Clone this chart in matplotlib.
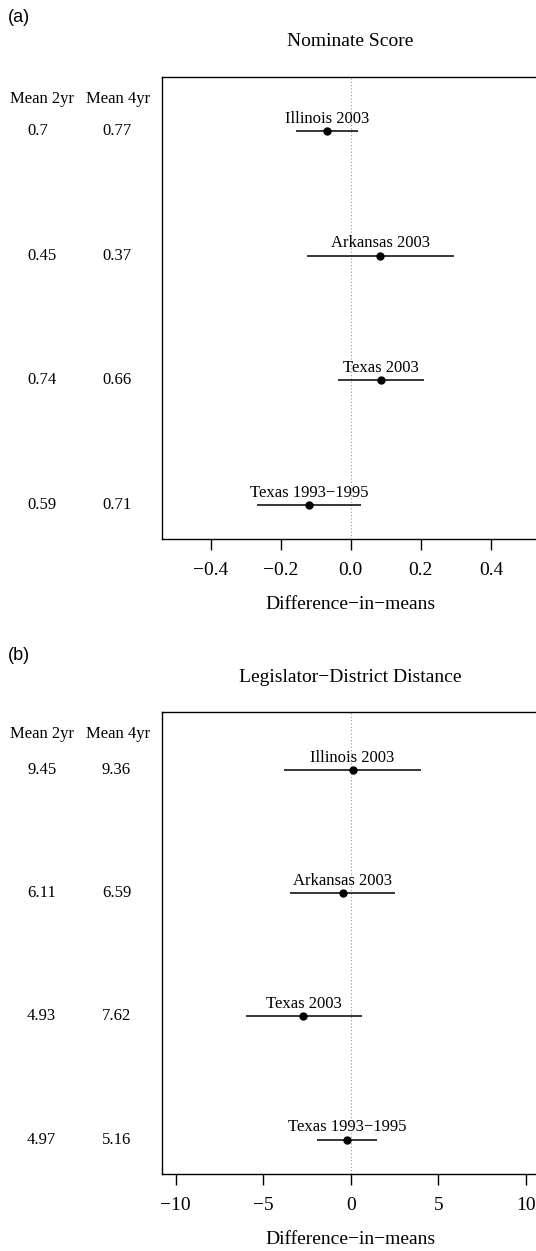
import numpy as np
import matplotlib.pyplot as plt
import matplotlib.transforms as mtransforms

W, H = 536, 1251

labels = ["Illinois 2003", "Arkansas 2003", "Texas 2003", "Texas 1993\u22121995"]

# panel (a): nominate score
nom_est = [-0.068, 0.084, 0.087, -0.119]
nom_lo = [-0.157, -0.126, -0.035, -0.267]
nom_hi = [0.020, 0.296, 0.209, 0.029]
nom_mean2 = ["0.7", "0.45", "0.74", "0.59"]
nom_mean4 = ["0.77", "0.37", "0.66", "0.71"]
nom_ticks = [-0.4, -0.2, 0.0, 0.2, 0.4]
nom_ticklabels = ["\u22120.4", "\u22120.2", "0.0", "0.2", "0.4"]

# panel (b): legislator-district distance
dist_est = [0.10, -0.47, -2.70, -0.19]
dist_lo = [-3.80, -3.48, -6.00, -1.90]
dist_hi = [4.00, 2.55, 0.67, 1.52]
dist_mean2 = ["9.45", "6.11", "4.93", "4.97"]
dist_mean4 = ["9.36", "6.59", "7.62", "5.16"]
dist_ticks = [-10, -5, 0, 5, 10]
dist_ticklabels = ["\u221210", "\u22125", "0", "5", "10"]

SERIF = ["Liberation Serif", "DejaVu Serif"]
plt.rcParams["font.family"] = SERIF


def fx(px):
    return px / W


def fy(py):
    return 1 - py / H


fig = plt.figure(figsize=(W / 100, H / 100), dpi=100)


def panel(tag, tag_y, title, est, lo, hi, m2, m4, ticks, ticklabels, xlim, ylim, top, bottom):
    left, right = 161.5, 540.0
    ax = fig.add_axes([fx(left), fy(bottom), (right - left) / W, (bottom - top) / H])
    rows = np.arange(len(est))[::-1] + 1  # first row on top
    ax.axvline(0, color="#999999", lw=0.8, ls=(0, (1, 2)), zorder=1)
    ax.hlines(rows, lo, hi, color="black", lw=1.1, zorder=2)
    ax.plot(est, rows, "o", color="black", ms=5, zorder=3)
    for x, y, lab in zip(est, rows, labels):
        ax.annotate(lab, (x, y), xytext=(0, 6), textcoords="offset points",
                    ha="center", va="baseline", fontsize=12)
    ax.set_xlim(*xlim)
    ax.set_ylim(*ylim)
    ax.set_yticks([])
    ax.set_xticks(ticks)
    ax.set_xticklabels(ticklabels, fontsize=14)
    ax.tick_params(axis="x", length=8, width=1.0, pad=8.5)
    for s in ax.spines.values():
        s.set_linewidth(1.0)
    ax.set_xlabel("Difference\u2212in\u2212means", fontsize=14, labelpad=12)

    # column of group means on the left
    tr = mtransforms.blended_transform_factory(fig.transFigure, ax.transData)
    for y, a, b in zip(rows, m2, m4):
        ax.text(fx(27), y, a, transform=tr, ha="left", va="center", fontsize=12)
        ax.text(fx(102), y, b, transform=tr, ha="left", va="center", fontsize=12)
    fig.text(fx(41.5), fy(top + 22), "Mean 2yr", ha="center", va="center", fontsize=12)
    fig.text(fx(118.5), fy(top + 22), "Mean 4yr", ha="center", va="center", fontsize=12)

    fig.text(fx(350), fy(top - 35), title, ha="center", va="center", fontsize=14)
    fig.text(fx(8), fy(tag_y), tag, ha="left", va="center", fontsize=13,
             family=["Liberation Sans", "DejaVu Sans"])
    return ax


panel("(a)", 17, "Nominate Score", nom_est, nom_lo, nom_hi, nom_mean2, nom_mean4,
      nom_ticks, nom_ticklabels, (-0.54, 0.54), (0.727, 4.434), 77, 539)
panel("(b)", 656, "Legislator\u2212District Distance", dist_est, dist_lo, dist_hi,
      dist_mean2, dist_mean4, dist_ticks, dist_ticklabels, (-10.8, 10.8), (0.72, 4.47), 712, 1174)

fig.savefig("out.png", dpi=100)
